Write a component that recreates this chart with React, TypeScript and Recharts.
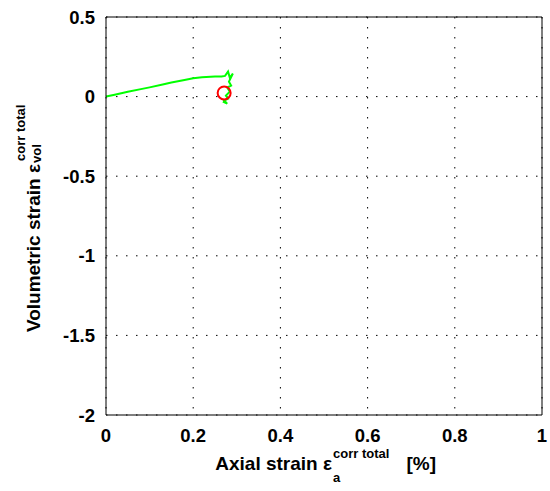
import React from "react";
import {
  ComposedChart,
  Line,
  Scatter,
  XAxis,
  YAxis,
  CartesianGrid,
} from "recharts";

const axialStrain = [
  0, 0.02, 0.05, 0.08, 0.1, 0.13, 0.15, 0.18, 0.2, 0.22, 0.25, 0.265, 0.273,
  0.28, 0.284, 0.291, 0.282, 0.287, 0.278, 0.284, 0.275, 0.28, 0.271, 0.278,
  0.268,
];
const volStrain = [
  0, 0.012, 0.03, 0.047, 0.058, 0.076, 0.088, 0.104, 0.115, 0.122, 0.126,
  0.127, 0.13, 0.157, 0.119, 0.145, 0.094, 0.069, 0.057, 0.031, 0.006, -0.013,
  -0.025, -0.044, -0.031,
];
const markerA = [0.271];
const markerVol = [0.023];

const xTicks = [0, 0.2, 0.4, 0.6, 0.8, 1];
const yTicks = [0.5, 0, -0.5, -1, -1.5, -2];
const xDomain: [number, number] = [0, 1];
const yDomain: [number, number] = [-2, 0.5];

const curve = axialStrain.map((a, i) => ({ a, v: volStrain[i] }));
const marker = markerA.map((a, i) => ({ a, v: markerVol[i] }));
// box frame (top and right edges) built from the axis domains
const frame = [
  { a: xDomain[0], v: yDomain[1] },
  { a: xDomain[1], v: yDomain[1] },
  { a: xDomain[1], v: yDomain[0] },
];

const FONT = "'Liberation Sans', Arial, sans-serif";

const fmt = (v: number) => String(v);

const RingShape = (props: any) => {
  const { cx, cy } = props;
  return <circle cx={cx} cy={cy} r={6.5} fill="none" stroke="#ff0000" strokeWidth={2} />;
};

const NoShape = () => <g />;

export default function App() {
  const tickStyle = { fontFamily: FONT, fontSize: 18.5, fontWeight: "bold", fill: "#000" };
  return (
    <div style={{ position: "absolute", left: 0, top: 0, width: 550, height: 491, background: "#fff" }}>
      <ComposedChart
        width={550}
        height={491}
        margin={{ top: 17, right: 8, left: 0, bottom: 0 }}
      >
        <CartesianGrid
          xAxisId="b"
          yAxisId="l"
          stroke="#000"
          strokeDasharray="1.5 8.5"
          strokeWidth={1}
        />
        <XAxis
          xAxisId="b"
          type="number"
          dataKey="a"
          domain={xDomain}
          ticks={xTicks}
          tickFormatter={fmt}
          height={76}
          tickLine={false}
          tickSize={0}
          tickMargin={14}
          axisLine={{ stroke: "#000", strokeWidth: 1 }}
          tick={tickStyle}
        />
        <YAxis
          yAxisId="l"
          type="number"
          dataKey="v"
          domain={yDomain}
          ticks={yTicks}
          tickFormatter={fmt}
          width={106}
          tickLine={false}
          tickSize={0}
          tickMargin={11}
          axisLine={{ stroke: "#000", strokeWidth: 1 }}
          tick={tickStyle}
        />
        <Scatter
          xAxisId="b"
          yAxisId="l"
          data={frame}
          dataKey="v"
          line={{ stroke: "#000", strokeWidth: 1 }}
          shape={<NoShape />}
          isAnimationActive={false}
        />
        <Line
          xAxisId="b"
          yAxisId="l"
          data={curve}
          dataKey="v"
          stroke="#00ff00"
          strokeWidth={2}
          dot={false}
          isAnimationActive={false}
          type="linear"
        />
        <Scatter
          xAxisId="b"
          yAxisId="l"
          data={marker}
          dataKey="v"
          shape={<RingShape />}
          isAnimationActive={false}
        />
      </ComposedChart>
      <svg
        width={550}
        height={491}
        style={{ position: "absolute", left: 0, top: 0, pointerEvents: "none" }}
      >
        <g fontFamily={FONT} fontWeight="bold" fill="#000">
          <text x={332} y={470} fontSize={19} textAnchor="end">Axial strain ε</text>
          <text x={333} y={482} fontSize={13}>a</text>
          <text x={333} y={458} fontSize={13}>corr total</text>
          <text x={436} y={470} fontSize={19} textAnchor="end">[%]</text>

          <text transform="translate(40,164) rotate(-90)" fontSize={19} textAnchor="end">
            Volumetric strain ε
          </text>
          <text transform="translate(41,163) rotate(-90)" fontSize={13}>vol</text>
          <text transform="translate(25,161) rotate(-90)" fontSize={13}>corr total</text>
        </g>
      </svg>
    </div>
  );
}
